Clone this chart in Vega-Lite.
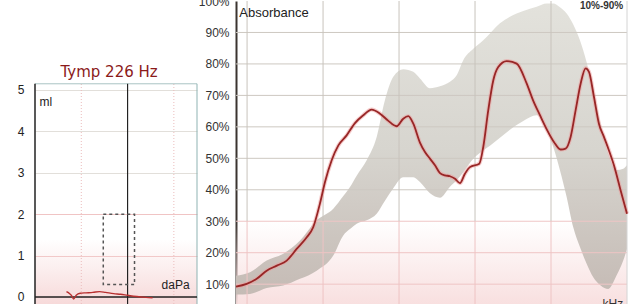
{
  "$schema": "https://vega.github.io/schema/vega-lite/v6.json",
  "background": "white",
  "padding": {"left": 17, "top": -5, "right": 0, "bottom": 0},
  "bounds": "flush",
  "spacing": 39,
  "config": {"view": {"stroke": null}, "font": "Liberation Sans", "axis": {"labelOverlap": false, "labelBound": false, "labelFlush": false}},
  "datasets": {
    "tymp": [
      {"daPa": -264, "ml": 0.13}, {"daPa": -250, "ml": 0.08}, {"daPa": -243, "ml": 0.04},
      {"daPa": -233, "ml": -0.05}, {"daPa": -222, "ml": 0.04}, {"daPa": -205, "ml": 0.09},
      {"daPa": -180, "ml": 0.1}, {"daPa": -150, "ml": 0.11}, {"daPa": -121, "ml": 0.13},
      {"daPa": -95, "ml": 0.11}, {"daPa": -60, "ml": 0.08}, {"daPa": -30, "ml": 0.065},
      {"daPa": 0, "ml": 0.04}, {"daPa": 40, "ml": 0.01}, {"daPa": 80, "ml": -0.01}, {"daPa": 108, "ml": -0.02}
    ],
    "absorbance": [
      {"khz": 0.226, "pct": 9.2}, {"khz": 0.249, "pct": 10.1}, {"khz": 0.273, "pct": 11.7},
      {"khz": 0.299, "pct": 14.3}, {"khz": 0.328, "pct": 15.9}, {"khz": 0.359, "pct": 17.5},
      {"khz": 0.393, "pct": 21.2}, {"khz": 0.431, "pct": 24.9}, {"khz": 0.457, "pct": 28.1},
      {"khz": 0.486, "pct": 35.6}, {"khz": 0.509, "pct": 42.5}, {"khz": 0.541, "pct": 49.4},
      {"khz": 0.575, "pct": 54.1}, {"khz": 0.62, "pct": 57.3}, {"khz": 0.669, "pct": 61.2},
      {"khz": 0.722, "pct": 63.7}, {"khz": 0.779, "pct": 65.5}, {"khz": 0.841, "pct": 64.2},
      {"khz": 0.907, "pct": 61.9}, {"khz": 0.978, "pct": 60.2}, {"khz": 1.039, "pct": 62.6},
      {"khz": 1.088, "pct": 63.4}, {"khz": 1.139, "pct": 61.0}, {"khz": 1.21, "pct": 55.0},
      {"khz": 1.267, "pct": 52.0}, {"khz": 1.326, "pct": 49.9}, {"khz": 1.388, "pct": 47.8},
      {"khz": 1.453, "pct": 45.3}, {"khz": 1.52, "pct": 44.6}, {"khz": 1.591, "pct": 44.3},
      {"khz": 1.666, "pct": 43.5}, {"khz": 1.743, "pct": 42.1}, {"khz": 1.824, "pct": 45.1},
      {"khz": 1.909, "pct": 47.2}, {"khz": 2.079, "pct": 48.3}, {"khz": 2.156, "pct": 53.6},
      {"khz": 2.257, "pct": 65.3}, {"khz": 2.363, "pct": 74.8}, {"khz": 2.472, "pct": 79.0},
      {"khz": 2.669, "pct": 80.9}, {"khz": 2.924, "pct": 80.1}, {"khz": 3.203, "pct": 73.8},
      {"khz": 3.393, "pct": 68.5}, {"khz": 3.616, "pct": 63.7}, {"khz": 3.865, "pct": 58.9},
      {"khz": 4.108, "pct": 55.2}, {"khz": 4.366, "pct": 52.8}, {"khz": 4.57, "pct": 53.1},
      {"khz": 4.784, "pct": 56.8}, {"khz": 5.008, "pct": 65.3}, {"khz": 5.243, "pct": 73.8},
      {"khz": 5.485, "pct": 78.6}, {"khz": 5.655, "pct": 77.5}, {"khz": 5.919, "pct": 69.5},
      {"khz": 6.193, "pct": 61.0}, {"khz": 6.482, "pct": 56.8}, {"khz": 6.786, "pct": 52.5},
      {"khz": 7.101, "pct": 47.8}, {"khz": 7.549, "pct": 39.8}, {"khz": 8.0, "pct": 32.4}
    ],
    "norm": [
      {"khz": 0.226, "lo": 6.7, "hi": 12.7}, {"khz": 0.2568, "lo": 6.9, "hi": 13.8},
      {"khz": 0.299, "lo": 8.8, "hi": 17.5}, {"khz": 0.3479, "lo": 9.6, "hi": 19.7},
      {"khz": 0.4052, "lo": 11.7, "hi": 23.9}, {"khz": 0.4718, "lo": 14.3, "hi": 30.3},
      {"khz": 0.5489, "lo": 19.1, "hi": 34.0}, {"khz": 0.6014, "lo": 25.5, "hi": 38.0},
      {"khz": 0.6392, "lo": 27.5, "hi": 40.9}, {"khz": 0.6795, "lo": 29.2, "hi": 44.5},
      {"khz": 0.7444, "lo": 30.3, "hi": 49.4}, {"khz": 0.8155, "lo": 32.4, "hi": 56.8},
      {"khz": 0.8796, "lo": 36.5, "hi": 68.5}, {"khz": 0.9488, "lo": 40.5, "hi": 75.9},
      {"khz": 1.0394, "lo": 44.0, "hi": 78.3}, {"khz": 1.1385, "lo": 44.0, "hi": 77.5},
      {"khz": 1.2103, "lo": 42.5, "hi": 75.4}, {"khz": 1.326, "lo": 38.9, "hi": 72.3},
      {"khz": 1.4525, "lo": 37.5, "hi": 72.9}, {"khz": 1.5913, "lo": 41.0, "hi": 74.3},
      {"khz": 1.6916, "lo": 43.0, "hi": 76.4}, {"khz": 1.7965, "lo": 45.6, "hi": 81.2},
      {"khz": 1.9683, "lo": 49.9, "hi": 84.8}, {"khz": 2.1559, "lo": 52.5, "hi": 87.5},
      {"khz": 2.2919, "lo": 54.0, "hi": 89.7}, {"khz": 2.5106, "lo": 56.5, "hi": 92.9},
      {"khz": 2.7504, "lo": 59.1, "hi": 95.0}, {"khz": 3.1052, "lo": 61.9, "hi": 96.8},
      {"khz": 3.5089, "lo": 63.7, "hi": 98.2}, {"khz": 3.8438, "lo": 59.0, "hi": 99.2},
      {"khz": 4.0822, "lo": 53.6, "hi": 99.2}, {"khz": 4.3394, "lo": 46.2, "hi": 98.0},
      {"khz": 4.6131, "lo": 37.7, "hi": 96.0}, {"khz": 4.8997, "lo": 28.1, "hi": 92.5},
      {"khz": 5.2077, "lo": 21.8, "hi": 87.5}, {"khz": 5.5356, "lo": 16.5, "hi": 80.5},
      {"khz": 5.8807, "lo": 12.2, "hi": 71.5}, {"khz": 6.2898, "lo": 9.6, "hi": 61.0},
      {"khz": 6.7425, "lo": 8.5, "hi": 51.5}, {"khz": 7.2783, "lo": 12.8, "hi": 46.3},
      {"khz": 7.7303, "lo": 17.5, "hi": 46.7}, {"khz": 8.0, "lo": 21.2, "hi": 47.8}
    ],
    "ygrid": [
      {"pct": 10}, {"pct": 20}, {"pct": 30}, {"pct": 40}, {"pct": 50},
      {"pct": 60}, {"pct": 70}, {"pct": 80}, {"pct": 90}
    ],
    "fgrid": [{"khz": 0.25}, {"khz": 0.5}, {"khz": 1}, {"khz": 2}, {"khz": 4}],
    "pgrid": [{"daPa": -200}, {"daPa": 200}],
    "box": [{"daPa0": -105, "daPa1": 30, "ml0": 0.3, "ml1": 2}]
  },
  "hconcat": [
    {
      "width": 162,
      "height": 303,
      "layer": [
        {
          "data": {"values": [{}]},
          "mark": {"type": "rect", "color": {"gradient": "linear", "x1": 0, "y1": 0, "x2": 0, "y2": 1, "stops": [{"offset": 0, "color": "rgba(246,214,214,0)"}, {"offset": 1, "color": "rgba(246,214,214,0.9)"}]}},
          "encoding": {
            "x": {"datum": -400, "type": "quantitative", "scale": {"domain": [-400, 300], "nice": false, "zero": false}, "axis": null},
            "x2": {"datum": 300},
            "y": {"datum": -0.17, "type": "quantitative", "scale": {"domain": [-0.17, 7.15], "nice": false, "zero": false},
              "axis": {"values": [0, 1, 2, 3, 4, 5], "title": null, "domain": false, "ticks": false, "labelOverlap": false, "labelPadding": 11, "labelFontSize": 12, "labelColor": "#222", "grid": true, "gridColor": {"condition": {"test": "datum.value <= 2", "value": "#f0c4c4"}, "value": "#e2dfda"}}},
            "y2": {"datum": 1.4}
          }
        },
        {
          "data": {"name": "pgrid"},
          "mark": {"type": "rule", "color": "#ebbcbc", "strokeDash": [1, 2], "strokeWidth": 1},
          "encoding": {
            "x": {"field": "daPa", "type": "quantitative", "axis": null},
            "y": {"datum": -0.17, "type": "quantitative"},
            "y2": {"datum": 5.15}
          }
        },
        {
          "data": {"values": [{}]},
          "mark": {"type": "rule", "color": "#a9c4c4", "strokeWidth": 1},
          "encoding": {
            "x": {"datum": -400, "type": "quantitative", "axis": null},
            "x2": {"datum": 300},
            "y": {"datum": 5.15, "type": "quantitative"}
          }
        },
        {
          "data": {"values": [{}]},
          "mark": {"type": "rule", "color": "#8fb3b3", "strokeWidth": 1},
          "encoding": {
            "x": {"datum": 300, "type": "quantitative", "axis": null},
            "y": {"datum": -0.17, "type": "quantitative"},
            "y2": {"datum": 5.15}
          }
        },
        {
          "data": {"values": [{}]},
          "mark": {"type": "rule", "color": "#222", "strokeWidth": 1.5},
          "encoding": {
            "x": {"datum": -400, "type": "quantitative", "axis": null},
            "y": {"datum": -0.17, "type": "quantitative"},
            "y2": {"datum": 5.15}
          }
        },
        {
          "data": {"values": [{}]},
          "mark": {"type": "rule", "color": "#222", "strokeWidth": 1.2},
          "encoding": {
            "x": {"datum": 0, "type": "quantitative", "axis": null},
            "y": {"datum": -0.17, "type": "quantitative"},
            "y2": {"datum": 5.15}
          }
        },
        {
          "data": {"values": [{}]},
          "mark": {"type": "rule", "color": "#222", "strokeWidth": 1.5},
          "encoding": {
            "x": {"datum": -400, "type": "quantitative", "axis": null},
            "x2": {"datum": 300},
            "y": {"datum": 0, "type": "quantitative"}
          }
        },
        {
          "data": {"name": "box"},
          "mark": {"type": "rect", "fillOpacity": 0, "stroke": "#555", "strokeDash": [3, 3], "strokeWidth": 1.5},
          "encoding": {
            "x": {"field": "daPa0", "type": "quantitative", "axis": null},
            "x2": {"field": "daPa1"},
            "y": {"field": "ml0", "type": "quantitative"},
            "y2": {"field": "ml1"}
          }
        },
        {
          "data": {"name": "tymp"},
          "mark": {"type": "line", "color": "#b83030", "strokeWidth": 1.4, "interpolate": "monotone"},
          "encoding": {
            "x": {"field": "daPa", "type": "quantitative", "axis": null},
            "y": {"field": "ml", "type": "quantitative"}
          }
        },
        {
          "data": {"values": [{}]},
          "mark": {"type": "text", "text": "Tymp 226 Hz", "font": "DejaVu Sans", "fontSize": 15, "color": "#8b1a1a", "align": "center", "baseline": "middle"},
          "encoding": {
            "x": {"datum": -80, "type": "quantitative", "axis": null},
            "y": {"datum": 5.44, "type": "quantitative"}
          }
        },
        {
          "data": {"values": [{}]},
          "mark": {"type": "text", "text": "ml", "fontSize": 12, "color": "#222", "align": "left", "baseline": "middle"},
          "encoding": {
            "x": {"datum": -381, "type": "quantitative", "axis": null},
            "y": {"datum": 4.72, "type": "quantitative"}
          }
        },
        {
          "data": {"values": [{}]},
          "mark": {"type": "text", "text": "daPa", "fontSize": 12, "color": "#222", "align": "left", "baseline": "middle"},
          "encoding": {
            "x": {"datum": 147, "type": "quantitative", "axis": null},
            "y": {"datum": 0.29, "type": "quantitative"}
          }
        }
      ]
    },
    {
      "width": 391,
      "height": 303,
      "layer": [
        {
          "data": {"values": [{}]},
          "mark": {"type": "rect", "color": {"gradient": "linear", "x1": 0, "y1": 0, "x2": 0, "y2": 1, "stops": [{"offset": 0, "color": "rgba(248,222,222,0)"}, {"offset": 1, "color": "rgba(248,222,222,0.95)"}]}},
          "encoding": {
            "x": {"datum": 0.226, "type": "quantitative", "scale": {"type": "log", "domain": [0.226, 8], "nice": false}, "axis": null},
            "x2": {"datum": 8},
            "y": {"datum": 3.7, "type": "quantitative", "scale": {"domain": [3.7, 100], "nice": false, "zero": false}},
            "y2": {"datum": 30}
          }
        },
        {
          "data": {"name": "norm"},
          "mark": {"type": "area", "interpolate": "monotone", "color": {"gradient": "linear", "x1": 0, "y1": 0, "x2": 0, "y2": 1, "stops": [{"offset": 0, "color": "#e3e2dc"}, {"offset": 0.5, "color": "#d7d5cf"}, {"offset": 1, "color": "#c5bbb5"}]}},
          "encoding": {
            "x": {"field": "khz", "type": "quantitative", "axis": null},
            "y": {"field": "hi", "type": "quantitative"},
            "y2": {"field": "lo"}
          }
        },
        {
          "data": {"name": "ygrid"},
          "mark": {"type": "rule", "strokeWidth": 1},
          "encoding": {
            "x": {"datum": 0.226, "type": "quantitative", "axis": null},
            "x2": {"datum": 8},
            "y": {"field": "pct", "type": "quantitative"},
            "color": {"condition": {"test": "datum.pct <= 30", "value": "#efc5c5"}, "value": "#cdc8c1"}
          }
        },
        {
          "data": {"name": "fgrid"},
          "mark": {"type": "rule", "color": "#c8c3bc", "strokeWidth": 1},
          "encoding": {
            "x": {"field": "khz", "type": "quantitative", "axis": null},
            "y": {"datum": 30, "type": "quantitative"},
            "y2": {"datum": 100}
          }
        },
        {
          "data": {"name": "fgrid"},
          "mark": {"type": "rule", "color": "#eec4c4", "strokeWidth": 1},
          "encoding": {
            "x": {"field": "khz", "type": "quantitative", "axis": null},
            "y": {"datum": 3.7, "type": "quantitative"},
            "y2": {"datum": 30}
          }
        },
        {
          "data": {"values": [{}]},
          "mark": {"type": "rule", "color": "#d4d4d4", "strokeWidth": 1},
          "encoding": {
            "x": {"datum": 8, "type": "quantitative", "axis": null},
            "y": {"datum": 3.7, "type": "quantitative"},
            "y2": {"datum": 100}
          }
        },
        {
          "data": {"name": "absorbance"},
          "mark": {"type": "line", "color": "#ee9a9a", "strokeWidth": 4, "opacity": 0.5, "interpolate": "monotone"},
          "encoding": {
            "x": {"field": "khz", "type": "quantitative", "axis": null},
            "y": {"field": "pct", "type": "quantitative"}
          }
        },
        {
          "data": {"name": "absorbance"},
          "mark": {"type": "line", "color": "#982626", "strokeWidth": 1.8, "interpolate": "monotone"},
          "encoding": {
            "x": {"field": "khz", "type": "quantitative", "axis": null},
            "y": {"field": "pct", "type": "quantitative",
              "axis": {"values": [10, 20, 30, 40, 50, 60, 70, 80, 90, 100], "tickCount": 10, "labelExpr": "datum.value + '%'", "title": null, "grid": false, "ticks": false, "labelOverlap": false, "labelSeparation": 0, "domain": true, "domainColor": "#3b3430", "domainWidth": 2, "labelPadding": 7, "labelFontSize": 12, "labelColor": "#333"}}
          }
        },
        {
          "data": {"values": [{}]},
          "mark": {"type": "text", "text": "Absorbance", "fontSize": 13, "color": "#222", "align": "left", "baseline": "middle"},
          "encoding": {
            "x": {"datum": 0.2328, "type": "quantitative", "axis": null},
            "y": {"datum": 96.2, "type": "quantitative"}
          }
        },
        {
          "data": {"values": [{}]},
          "mark": {"type": "text", "text": "10%-90%", "fontSize": 10, "fontWeight": "bold", "color": "#333", "align": "right", "baseline": "middle"},
          "encoding": {
            "x": {"datum": 7.73, "type": "quantitative", "axis": null},
            "y": {"datum": 98.4, "type": "quantitative"}
          }
        },
        {
          "data": {"values": [{}]},
          "mark": {"type": "text", "text": "kHz", "fontSize": 12, "color": "#333", "align": "right", "baseline": "top"},
          "encoding": {
            "x": {"datum": 7.73, "type": "quantitative", "axis": null},
            "y": {"datum": 5.3, "type": "quantitative"}
          }
        }
      ]
    }
  ]
}
